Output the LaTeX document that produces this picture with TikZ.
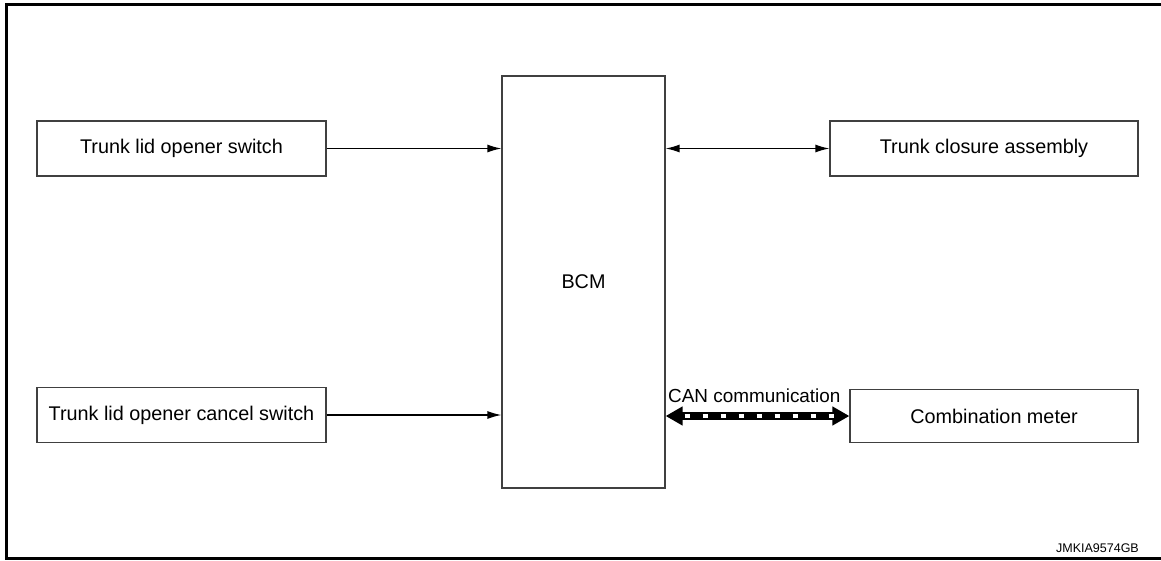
\documentclass[tikz,border=0pt]{standalone}
\usepackage{fontspec}
\setmainfont{Liberation Sans}
\usetikzlibrary{arrows.meta}
\begin{document}
\begin{tikzpicture}[x=1pt,y=-1pt,
  blk/.style={draw=black!75,line width=1.2pt,inner sep=0pt,font=\fontsize{19.8}{23}\selectfont},
  conn/.style={line width=1.3pt,-{Latex[length=14pt,width=8pt]}},
  bconn/.style={line width=1.3pt,{Latex[length=14pt,width=8pt]}-{Latex[length=14pt,width=8pt]}}]
\useasboundingbox (0,0) rectangle (1161,561);
\draw[line width=3pt] (1161,5) -- (6.5,5) -- (6.5,558.5) -- (1161,558.5);
\node[blk,minimum width=289pt,minimum height=55pt] (tlos) at (181.5,148.5) {Trunk lid opener switch};
\node[blk,minimum width=289pt,minimum height=55pt] (tlocs) at (181.5,415) {Trunk lid opener cancel switch};
\node[blk,minimum width=163pt,minimum height=412pt] (bcm) at (583.5,282) {BCM};
\node[blk,minimum width=308pt,minimum height=55pt] (tca) at (984,148.5) {Trunk closure assembly};
\node[blk,minimum width=288pt,minimum height=53pt] (cm) at (994,416) {Combination meter};
\draw[conn] (tlos.east) -- (tlos.east -| bcm.west);
\draw[conn] (tlocs.east) -- (tlocs.east -| bcm.west);
\draw[bconn] (tca.west -| bcm.east) -- (tca.west);
\coordinate (canl) at (bcm.east |- cm.west);
\draw[line width=8pt,{Triangle[length=17pt,width=18pt]}-{Triangle[length=17pt,width=18pt]}] (canl) -- (cm.west);
\draw[white,line width=3.8pt,dash pattern=on 5pt off 13pt,dash phase=-2pt] ([xshift=17pt]canl) -- ([xshift=-15pt]cm.west);
\node[font=\fontsize{18.9}{22}\selectfont,anchor=base west,inner sep=0pt] (canlab) at (668,402) {CAN communication};
\node[font=\fontsize{12.5}{15}\selectfont,anchor=base east,inner sep=0pt] (id) at (1139,552) {JMKIA9574GB};
\end{tikzpicture}
\end{document}
